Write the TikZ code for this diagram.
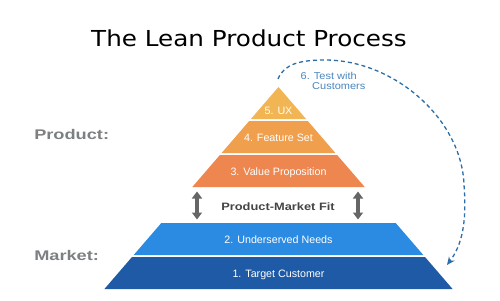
\documentclass[tikz,border=0pt]{standalone}
\usepackage{fontspec}
\setmainfont{Liberation Sans}
\newfontfamily\titlefont{DejaVu Sans}
\usetikzlibrary{arrows.meta}
\definecolor{uxc}{HTML}{F2B553}
\definecolor{fsc}{HTML}{F0A04C}
\definecolor{vpc}{HTML}{EE8650}
\definecolor{unc}{HTML}{2B8AE2}
\definecolor{tcc}{HTML}{1E5AA5}
\definecolor{lblgray}{HTML}{7C8082}
\definecolor{pmfgray}{HTML}{454545}
\definecolor{arrgray}{HTML}{666666}
\definecolor{testblue}{HTML}{2D6EA8}
\definecolor{testtxt}{HTML}{4A86BE}
\tikzset{
  bandtxt/.style={anchor=base, text=white, inner sep=0pt, font=\fontsize{10.7}{12}\selectfont},
  sidelbl/.style={anchor=base west, text=lblgray, inner sep=0pt, xscale=1.3, font=\fontsize{14}{16}\selectfont\bfseries},
  fitarrow/.style={draw=arrgray, line width=4pt, {Triangle[width=10pt,length=7pt]}-{Triangle[width=10pt,length=7pt]}},
  testarrow/.style={draw=testblue, line width=1.3pt, dash pattern=on 4pt off 3pt, -{Stealth[length=8pt,width=7pt]}},
  testtxtsty/.style={anchor=base west, text=testtxt, inner sep=0pt, xscale=1.1, font=\fontsize{10}{12}\selectfont}
}
\begin{document}
\begin{tikzpicture}[x=1pt,y=-1pt]
\useasboundingbox (0,0) rectangle (500,300);
\fill[white] (0,0) rectangle (500,300);
% title
\node[anchor=base, inner sep=0pt, xscale=1.12, font=\titlefont\fontsize{22}{26}\selectfont] (title) at (249,46.5) {The Lean Product Process};
% pyramid bands (centre 278.5, apex 87, slope 0.862)
\fill[uxc] (278.5,87) -- (306.1,119) -- (250.9,119) -- cycle;
\fill[fsc] (249.2,121) -- (307.8,121) -- (335.4,153) -- (221.6,153) -- cycle;
\fill[vpc] (219.9,155) -- (337.1,155) -- (364.7,187) -- (192.3,187) -- cycle;
\fill[unc] (161.3,223) -- (395.7,223) -- (423.3,255) -- (133.7,255) -- cycle;
\fill[tcc] (132.0,257) -- (425.0,257) -- (452.6,289) -- (104.4,289) -- cycle;
% band labels
\node[bandtxt] (ux) at (278.5,114.5) {5. UX};
\node[bandtxt] (fs) at (278.5,141) {4. Feature Set};
\node[bandtxt] (vp) at (278.5,175.5) {3. Value Proposition};
\node[bandtxt] (un) at (278.5,243) {2. Underserved Needs};
\node[bandtxt] (tc) at (278.5,277.5) {1. Target Customer};
% side labels
\node[sidelbl] (prod) at (34,139.5) {Product:};
\node[sidelbl] (mkt) at (34,260) {Market:};
% product-market fit
\node[anchor=base, inner sep=0pt, text=pmfgray, xscale=1.2, font=\fontsize{10.7}{12}\selectfont\bfseries] (pmf) at (278,210) {Product-Market Fit};
\coordinate (vpL) at (197,191.5);
\coordinate (unL) at (197,219.5);
\coordinate (vpR) at (358,191.5);
\coordinate (unR) at (358,219.5);
\draw[fitarrow] (vpL) -- (unL);
\draw[fitarrow] (vpR) -- (unR);
% test with customers loop
\coordinate (loopstart) at (278,79);
\coordinate (looptop) at (325,60);
\coordinate (loopside) at (464,185);
\coordinate (loopend) at (447,265);
\draw[testarrow] (loopstart) .. controls (284,64) and (300,60) .. (looptop)
  .. controls (395,60) and (462,120) .. (loopside)
  .. controls (467,222) and (462,245) .. (loopend);
\node[testtxtsty] (test1) at (300.5,79.5) {6. Test with};
\node[testtxtsty] (test2) at (312,89) {Customers};
\end{tikzpicture}
\end{document}
